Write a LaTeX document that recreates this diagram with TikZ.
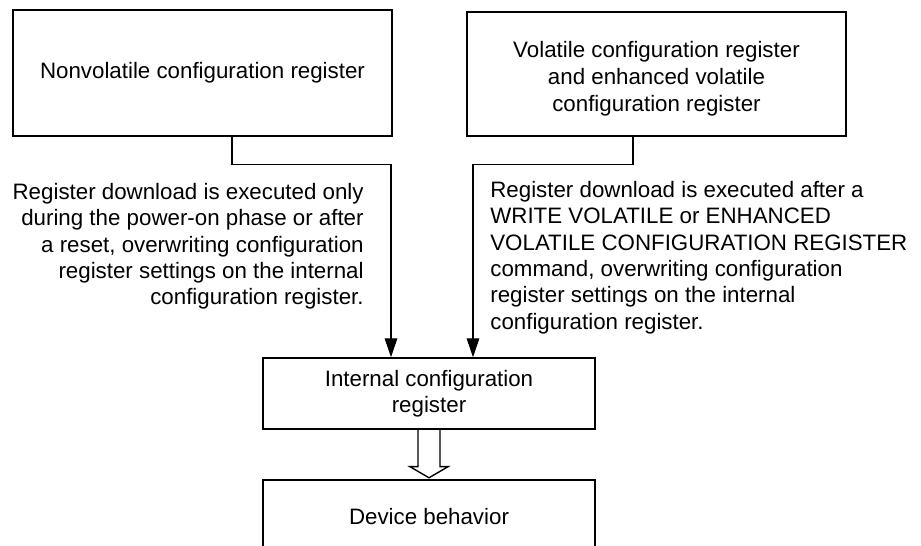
\documentclass[tikz,border=0pt]{standalone}
\usepackage{fontspec}
\setmainfont{Liberation Sans}
\usepackage{tikz}
\usetikzlibrary{positioning,calc,arrows.meta}

\tikzset{
    regbox/.style={draw, line width=0.8pt, align=center, inner sep=0pt},
    flow/.style={line width=0.8pt, -{Triangle[length=3.8mm,width=2.5mm]}},
    note/.style={inner sep=0pt}
}

\begin{document}
\begin{tikzpicture}[x=0.02cm, y=-0.02cm, font=\fontsize{12.7}{15}\selectfont]
    \path [use as bounding box, clip] (0,0) rectangle (921,546);

    % Source registers
    \node [regbox, minimum width=379*0.02cm, minimum height=126*0.02cm] (nvcr) at (202.5,73) {Nonvolatile configuration register};
    \node [regbox, minimum width=379*0.02cm, minimum height=124*0.02cm, font=\fontsize{12.7}{15.5}\selectfont] (vcr) at (656.5,74) {};
    \node [align=center, font=\fontsize{12.7}{15.5}\selectfont] (vcrtext) at (656.5,78.5) {Volatile configuration register\\and enhanced volatile\\configuration register};

    % Target registers
    \node [regbox, minimum width=332*0.02cm, minimum height=71*0.02cm] (icr) at (429,393.5) {Internal configuration\\register};
    \node [regbox, minimum width=332*0.02cm, minimum height=74*0.02cm] (dev) at (429,517) {Device behavior};

    % Download paths
    \draw [flow] ($(nvcr.south)+(29.5,0)$) -- ++(0,28) -| ($(icr.north)+(-38,0)$);
    \draw [flow] ($(vcr.south)+(-23.5,0)$) -- ++(0,28) -| ($(icr.north)+(44,0)$);

    \node [note, anchor=north east, align=right] (nvtext) at (364,183) {Register download is executed only\\during the power-on phase or after\\a reset, overwriting configuration\\register settings on the internal\\configuration register.};
    \node [note, anchor=north west, align=left] (vtext) at (490,181) {Register download is executed after a\\WRITE VOLATILE or ENHANCED\\VOLATILE CONFIGURATION REGISTER\\command, overwriting configuration\\register settings on the internal\\configuration register.};

    % Hollow arrow to device behavior
    \draw [line width=0.8pt] ($(icr.south)+(-11,0)$) -- ++(0,37) -- ++(-8,0) -- ($(dev.north)+(0,-1.5)$) -- ($(icr.south)+(19,37)$) -- ++(-8,0) -- ($(icr.south)+(11,0)$);
\end{tikzpicture}
\end{document}
